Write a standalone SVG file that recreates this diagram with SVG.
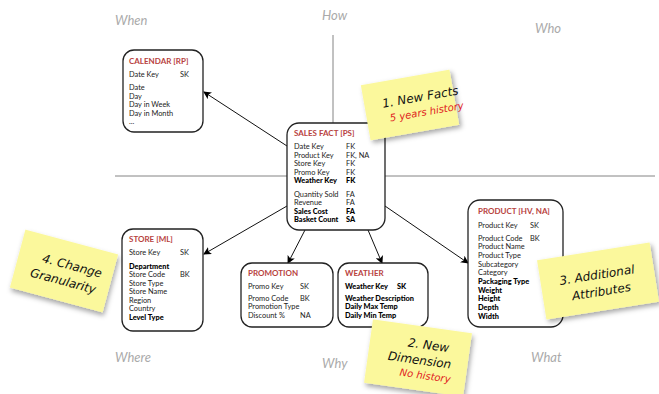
<svg xmlns="http://www.w3.org/2000/svg" width="659" height="394" viewBox="0 0 659 394">
<defs>
<marker id="ah" markerWidth="8" markerHeight="8" refX="7" refY="4" orient="auto" markerUnits="userSpaceOnUse">
<path d="M0,0 L8,4 L0,8 L2,4 Z" fill="#000"/>
</marker>
<filter id="sh" x="-20%" y="-20%" width="150%" height="150%">
<feDropShadow dx="2" dy="3" stdDeviation="2.5" flood-color="#000" flood-opacity="0.35"/>
</filter>
</defs>
<style>
.box{fill:#fff;stroke:#222;stroke-width:1.3}
.t{font-family:Lato,"Liberation Sans",sans-serif;font-size:7.4px;fill:#222}
.b{font-weight:900;fill:#000}
.h{font-family:Lato,"Liberation Sans",sans-serif;font-size:8px;font-weight:bold;fill:#b8423e}
.q{font-family:Lato,"Open Sans",sans-serif;font-style:italic;font-size:13px;fill:#aaa}
.ax{stroke:#666;stroke-width:0.8;fill:none}
.con{stroke:#111;stroke-width:1;fill:none;marker-end:url(#ah)}
.note{fill:#fbf89c;filter:url(#sh)}
.hw{font-family:"DejaVu Sans",sans-serif;font-style:italic;font-size:12px;fill:#111}
.hr{font-family:"DejaVu Sans",sans-serif;font-style:italic;font-size:10px;fill:#e02020}
</style>
<rect width="659" height="394" fill="#fff"/>
<g id="axes">
<line class="ax" x1="333" y1="35" x2="333" y2="125"/>
<line class="ax" x1="115" y1="176" x2="655" y2="176"/>
</g>
<g id="quadrants">
<text class="q" x="115" y="25">When</text>
<text class="q" x="322" y="20">How</text>
<text class="q" x="535" y="33">Who</text>
<text class="q" x="115" y="362">Where</text>
<text class="q" x="322" y="368">Why</text>
<text class="q" x="531" y="362">What</text>
</g>
<g id="connectors">
<line class="con" x1="287" y1="146" x2="204" y2="92"/>
<line class="con" x1="287" y1="206" x2="204" y2="254"/>
<line class="con" x1="305" y1="230" x2="288" y2="263"/>
<line class="con" x1="368" y1="230" x2="382" y2="263"/>
<line class="con" x1="385" y1="206" x2="468" y2="263"/>
</g>
<g id="calendar">
<rect class="box" x="123" y="50" width="80" height="82" rx="11"/>
<text class="h" x="129" y="64">CALENDAR [RP]</text>
<text class="t" x="129" y="77">Date Key</text><text class="t" x="180" y="77">SK</text>
<text class="t" x="129" y="90">Date</text>
<text class="t" x="129" y="99">Day</text>
<text class="t" x="129" y="107">Day in Week</text>
<text class="t" x="129" y="116">Day in Month</text>
<text class="t" x="129" y="124">...</text>
</g>
<g id="salesfact">
<rect class="box" x="287" y="123" width="98" height="107" rx="12"/>
<text class="h" x="294" y="136">SALES FACT [PS]</text>
<text class="t" x="294" y="149">Date Key</text><text class="t" x="346" y="149">FK</text>
<text class="t" x="294" y="158">Product Key</text><text class="t" x="346" y="158">FK, NA</text>
<text class="t" x="294" y="166">Store Key</text><text class="t" x="346" y="166">FK</text>
<text class="t" x="294" y="175">Promo Key</text><text class="t" x="346" y="175">FK</text>
<text class="t b" x="294" y="183">Weather Key</text><text class="t b" x="346" y="183">FK</text>
<text class="t" x="294" y="197">Quantity Sold</text><text class="t" x="346" y="197">FA</text>
<text class="t" x="294" y="205">Revenue</text><text class="t" x="346" y="205">FA</text>
<text class="t b" x="294" y="214">Sales Cost</text><text class="t b" x="346" y="214">FA</text>
<text class="t b" x="294" y="222">Basket Count</text><text class="t b" x="346" y="222">SA</text>
</g>
<g id="store">
<rect class="box" x="122" y="229" width="81" height="102" rx="11"/>
<text class="h" x="129" y="242">STORE [ML]</text>
<text class="t" x="129" y="255">Store Key</text><text class="t" x="180" y="255">SK</text>
<text class="t b" x="129" y="269">Department</text>
<text class="t" x="129" y="277">Store Code</text><text class="t" x="180" y="277">BK</text>
<text class="t" x="129" y="286">Store Type</text>
<text class="t" x="129" y="294">Store Name</text>
<text class="t" x="129" y="303">Region</text>
<text class="t" x="129" y="311">Country</text>
<text class="t b" x="129" y="320">Level Type</text>
</g>
<g id="promotion">
<rect class="box" x="241" y="263" width="92" height="64" rx="11"/>
<text class="h" x="248" y="276">PROMOTION</text>
<text class="t" x="248" y="289">Promo Key</text><text class="t" x="300" y="289">SK</text>
<text class="t" x="248" y="301">Promo Code</text><text class="t" x="300" y="301">BK</text>
<text class="t" x="248" y="309">Promotion Type</text>
<text class="t" x="248" y="318">Discount %</text><text class="t" x="300" y="318">NA</text>
</g>
<g id="weather">
<rect class="box" x="338" y="263" width="90" height="64" rx="11"/>
<text class="h" x="345" y="276">WEATHER</text>
<text class="t b" x="345" y="289">Weather Key</text><text class="t b" x="397" y="289">SK</text>
<text class="t b" x="345" y="301">Weather Description</text>
<text class="t b" x="345" y="309">Daily Max Temp</text>
<text class="t b" x="345" y="318">Daily Min Temp</text>
</g>
<g id="product">
<rect class="box" x="468" y="200" width="95" height="127" rx="12"/>
<text class="h" x="478" y="214">PRODUCT [HV, NA]</text>
<text class="t" x="478" y="228">Product Key</text><text class="t" x="530" y="228">SK</text>
<text class="t" x="478" y="241">Product Code</text><text class="t" x="530" y="241">BK</text>
<text class="t" x="478" y="249">Product Name</text>
<text class="t" x="478" y="258">Product Type</text>
<text class="t" x="478" y="267">Subcategory</text>
<text class="t" x="478" y="275">Category</text>
<text class="t b" x="478" y="284">Packaging Type</text>
<text class="t b" x="478" y="293">Weight</text>
<text class="t b" x="478" y="301">Height</text>
<text class="t b" x="478" y="310">Depth</text>
<text class="t b" x="478" y="319">Width</text>
</g>
<g id="note1" transform="translate(410,105) rotate(-10)">
<rect class="note" x="-45" y="-28" width="90" height="56"/>
<text class="hw" x="-27" y="-2">1. New Facts</text>
<text class="hr" x="-22" y="13">5 years history</text>
</g>
<g id="note4" transform="translate(64,271) rotate(15)">
<rect class="note" x="-48" y="-30" width="96" height="60"/>
<text class="hw" x="-24" y="-3">4. Change</text>
<text class="hw" x="-32" y="14">Granularity</text>
</g>
<g id="note3" transform="translate(598,281) rotate(-9)">
<rect class="note" x="-57" y="-30" width="114" height="60"/>
<text class="hw" x="-38" y="-2">3. Additional</text>
<text class="hw" x="-28" y="15">Attributes</text>
</g>
<g id="note2" transform="translate(418,358) rotate(8)">
<rect class="note" x="-50" y="-32" width="100" height="64"/>
<text class="hw" x="-12" y="-10">2. New</text>
<text class="hw" x="-30" y="6">Dimension</text>
<text class="hr" x="-16" y="20">No history</text>
</g>
</svg>
